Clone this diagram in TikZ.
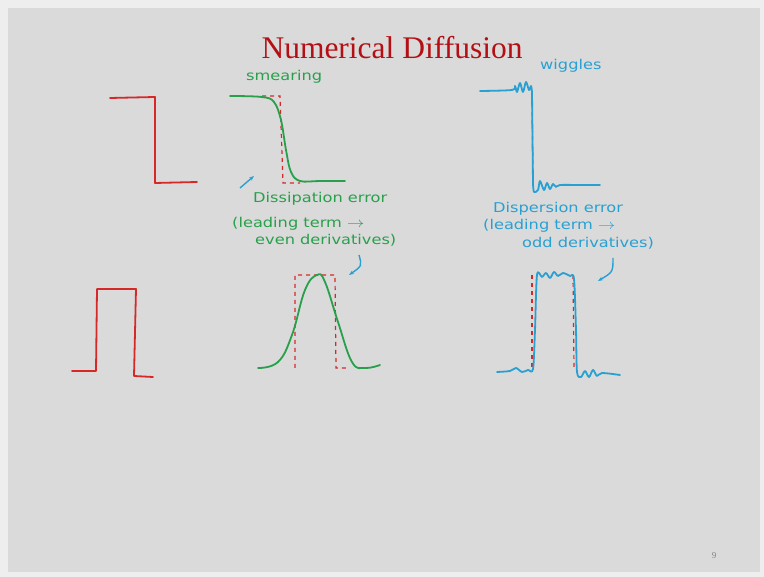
\documentclass[tikz,border=0pt]{standalone}
\usepackage{fontspec}
\setmainfont{Liberation Serif}
\newfontfamily\handfont{DejaVu Sans}
\usetikzlibrary{arrows.meta}
\definecolor{slidegray}{RGB}{218,218,218}
\definecolor{framegray}{RGB}{238,238,238}
\definecolor{titlered}{RGB}{180,15,20}
\definecolor{penred}{RGB}{215,40,40}
\definecolor{pengreen}{RGB}{40,160,75}
\definecolor{penblue}{RGB}{40,160,210}
\tikzset{
  pen/.style={line width=1.8pt, line cap=round, line join=round},
  guide/.style={penred, line width=1.2pt, dash pattern=on 4pt off 4pt},
  note/.style={font=\handfont\fontsize{13.5}{15}\selectfont, xscale=1.2, inner sep=0pt, anchor=west},
  pointer/.style={penblue, line width=1.4pt, -{Stealth[length=5pt]}}
}
\begin{document}
\begin{tikzpicture}[x=1pt, y=-1pt]
        \useasboundingbox (0,0) rectangle (764,577);
        \fill[framegray] (0,0) rectangle (764,577);
        \fill[slidegray] (8,8) rectangle (760,572);

        \node[titlered, font=\fontsize{31.5}{36}\selectfont] (title) at (392,48) {Numerical Diffusion};

        % exact step
        \draw[pen, penred] (110,98) -- (155,97) -- (155,183) -- (197,182);

        % smeared step
        \draw[guide] (262,96) -- (280,96) -- (283,183) -- (300,183);
        \draw[pen, pengreen] plot[smooth, tension=0.6] coordinates {(230,96) (262,97) (274,102) (281,120) (286,150) (291,172) (300,181) (320,181) (345,181)};
        \node[note, pengreen] (smear) at (246,77) {smearing};
        \coordinate (tailA) at (240,188);
        \coordinate (headA) at (254,176);
        \draw[pointer] (tailA) -- (headA);

        % step with wiggles
        \draw[guide] (532,96) -- (533,185);
        \draw[pen, penblue] plot[smooth, tension=0.5] coordinates {(480,91) (512,90) (515,86) (517,92) (520,83) (523,92) (526,82) (529,90) (531,86) (532,92)};
        \draw[pen, penblue] (532,92) -- (533,184);
        \draw[pen, penblue] plot[smooth, tension=0.5] coordinates {(533,184) (534,192) (538,190) (540,181) (544,190) (547,183) (550,189) (553,184) (556,187) (560,185) (580,185) (600,185)};
        \node[note, penblue] (wig) at (540,66) {wiggles};

        \node[note, pengreen] (dissA) at (253,199) {Dissipation error};
        \node[note, pengreen] (dissB) at (232,224) {(leading term $\rightarrow$};
        \node[note, pengreen] (dissC) at (255,240) {even derivatives)};
        \node[note, penblue] (dispA) at (493,209) {Dispersion error};
        \node[note, penblue] (dispB) at (483,226) {(leading term $\rightarrow$};
        \node[note, penblue] (dispC) at (522,243) {odd derivatives)};

        \coordinate (tailB) at (359,255);
        \coordinate (headB) at (349,275);
        \draw[pointer] (tailB) .. controls (362,266) .. (headB);
        \coordinate (tailC) at (613,258);
        \coordinate (headC) at (598,281);
        \draw[pointer] (tailC) .. controls (613,272) .. (headC);

        % exact pulse
        \draw[pen, penred] (72,371) -- (96,371) -- (97,289) -- (136,289) -- (134,376) -- (153,377);

        % smeared pulse
        \draw[guide] (295,368) -- (295,275) -- (335,275) -- (336,368) -- (348,368);
        \draw[pen, pengreen] plot[smooth, tension=0.7] coordinates {(258,368) (278,362) (292,335) (305,290) (317,275) (325,282) (338,322) (352,362) (365,368) (380,365)};

        % pulse with wiggles
        \draw[guide] (532,275) -- (532,368);
        \draw[guide] (573,275) -- (574,368);
        \draw[pen, penblue] plot[smooth, tension=0.5] coordinates {(497,372) (510,371) (516,368) (522,372) (528,370) (533,369) (535,330) (537,275) (542,277) (546,273) (550,278) (554,272) (558,276) (563,273) (570,276) (574,279) (576,330) (577,372) (581,377) (585,371) (589,377) (593,370) (597,376) (602,373) (620,375)};

        \node[gray, font=\fontsize{9}{10}\selectfont] (pg) at (714,556) {9};
\end{tikzpicture}
\end{document}
